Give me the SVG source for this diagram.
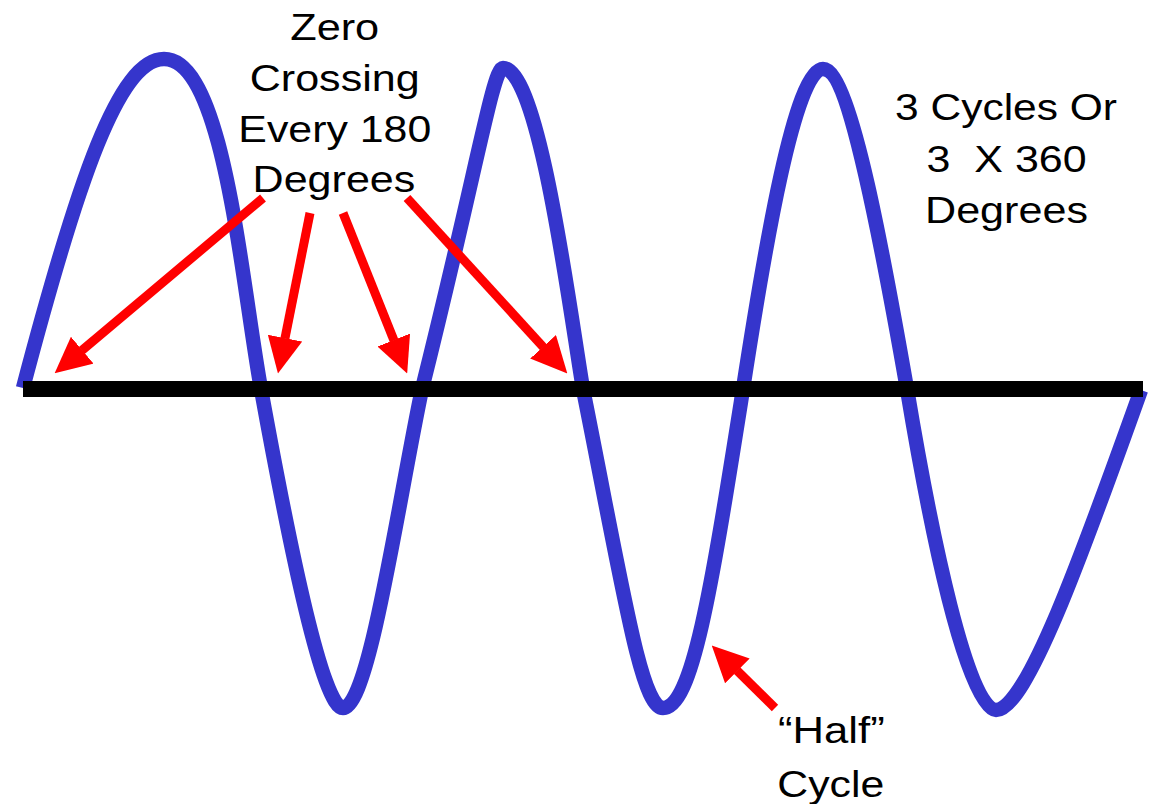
<svg xmlns="http://www.w3.org/2000/svg" width="1149" height="804" viewBox="0 0 1149 804">
<style>
.lbl{font-family:"Liberation Sans",Arial,sans-serif;font-size:37px;fill:#000}
.arr{stroke:#FF0000;stroke-width:9;fill:none;marker-end:url(#head)}
.wave{stroke:#3535CC;stroke-width:14.5;fill:none;stroke-linejoin:round}
</style>
<defs>
<marker id="head" markerUnits="userSpaceOnUse" markerWidth="36" markerHeight="35" viewBox="0 0 35 34" refX="0.5" refY="17" orient="auto">
<path d="M0,0 L35,17 L0,34 Z" fill="#FF0000"/>
</marker>
</defs>
<rect width="1149" height="804" fill="#FFFFFF"/>
<g id="sine-wave">
<path class="wave" d="M23,388 C78,179 119,59 164,59 C224,59 241,279 261,389 C291,554 323,708 343,708 C369,708 398,503 422,389 C477,169 493,68 503,68 C539,68 569,305 583,389 C623,589 641,708 663,708 C693,708 712,584 743,389 C765,246 795,69 823,69 C851,69 886,269 907,389 C932,539 968,710 996,710 C1026,710 1081,558 1141,390"/>
</g>
<g id="zero-axis">
<rect x="23" y="381" width="1120" height="16" fill="#000000"/>
</g>
<g id="connectors">
<line class="arr" x1="263" y1="198" x2="81.8" y2="350.5"/>
<line class="arr" x1="310" y1="213" x2="284.9" y2="338.7"/>
<line class="arr" x1="343" y1="213" x2="394" y2="340.5"/>
<line class="arr" x1="407" y1="198" x2="543.4" y2="347.2"/>
<line class="arr" x1="775" y1="708" x2="737" y2="670.5"/>
</g>
<g id="label-zero-crossing">
<text class="lbl" x="290.2" y="40" textLength="89" lengthAdjust="spacingAndGlyphs">Zero</text>
<text class="lbl" x="249.7" y="90.7" textLength="170" lengthAdjust="spacingAndGlyphs">Crossing</text>
<text class="lbl" x="238.3" y="141.7" textLength="193" lengthAdjust="spacingAndGlyphs">Every 180</text>
<text class="lbl" x="252.6" y="192.3" textLength="162.7" lengthAdjust="spacingAndGlyphs">Degrees</text>
</g>
<g id="label-cycles">
<text class="lbl" x="895" y="120" textLength="222" lengthAdjust="spacingAndGlyphs">3 Cycles Or</text>
<text class="lbl" x="926.6" y="171.7" textLength="160" lengthAdjust="spacingAndGlyphs" xml:space="preserve">3  X 360</text>
<text class="lbl" x="925" y="223.3" textLength="163" lengthAdjust="spacingAndGlyphs">Degrees</text>
</g>
<g id="label-half-cycle">
<text class="lbl" x="778" y="743.3" textLength="106.7" lengthAdjust="spacingAndGlyphs">“Half”</text>
<text class="lbl" x="777.3" y="796.7" textLength="107" lengthAdjust="spacingAndGlyphs">Cycle</text>
</g>
</svg>
